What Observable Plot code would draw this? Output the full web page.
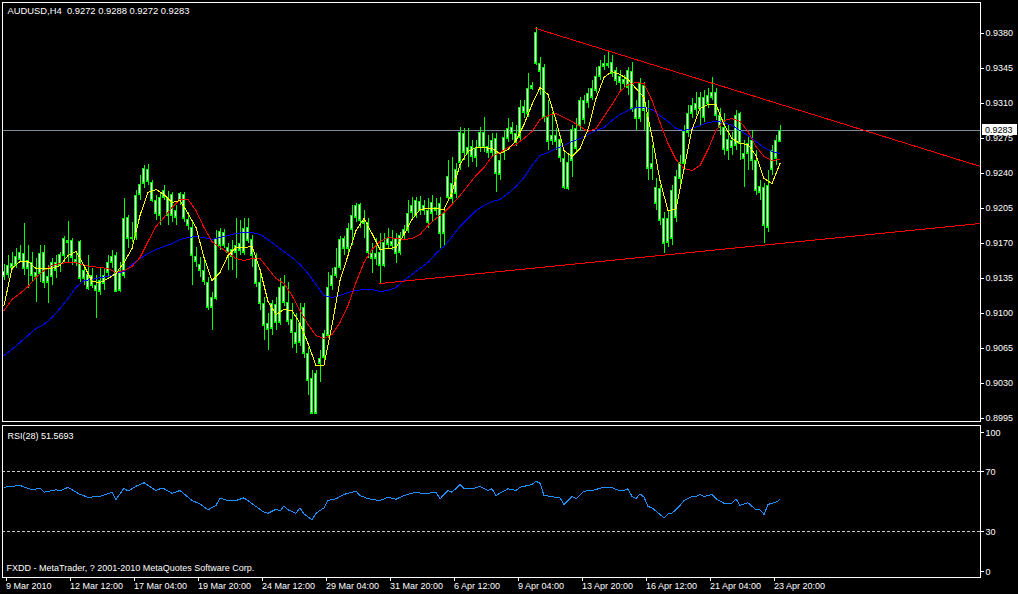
<!DOCTYPE html>
<html><head><meta charset="utf-8">
<script src="https://cdn.jsdelivr.net/npm/d3@7"></script>
<script src="https://cdn.jsdelivr.net/npm/@observablehq/plot@0.6"></script>
<style>
html,body{margin:0;padding:0;background:#000;}
#chart{width:1018px;height:594px;background:#000;overflow:hidden;}
#chart svg{display:block;}
#chart svg path,#chart svg line,#chart svg rect{shape-rendering:crispEdges;}
#chart svg text{white-space:pre;}
</style></head><body><div id="chart"></div>
<script>
// ---- data (AUDUSD H4 candles, index 0 = 9 Mar 2010) ----
const open = [
0.9137,0.9139,0.9146,0.9148,0.9154,0.9160,0.9145,0.9151,0.9137,0.9140,
0.9161,0.9131,0.9137,0.9143,0.9148,0.9158,0.9173,0.9173,0.9151,0.9172,
0.9135,0.9139,0.9128,0.9128,0.9122,0.9130,0.9141,0.9151,0.9158,0.9123,
0.9138,0.9196,0.9175,0.9176,0.9219,0.9230,0.9244,0.9231,0.9213,0.9198,
0.9216,0.9215,0.9198,0.9203,0.9213,0.9219,0.9194,0.9186,0.9157,0.9149,
0.9143,0.9131,0.9106,0.9115,0.9168,0.9181,0.9166,0.9157,0.9161,0.9170,
0.9161,0.9186,0.9174,0.9155,0.9131,0.9110,0.9084,0.9085,0.9109,0.9091,
0.9127,0.9111,0.9094,0.9070,0.9090,0.9106,0.9060,0.9035,0.9000,0.9050,
0.9056,0.9078,0.9128,0.9138,0.9146,0.9175,0.9165,0.9184,0.9196,0.9209,
0.9193,0.9191,0.9155,0.9160,0.9148,0.9148,0.9169,0.9172,0.9160,0.9161,
0.9178,0.9183,0.9201,0.9213,0.9203,0.9208,0.9203,0.9200,0.9206,0.9210,
0.9180,0.9216,0.9230,0.9220,0.9251,0.9280,0.9260,0.9267,0.9256,0.9266,
0.9281,0.9267,0.9261,0.9275,0.9239,0.9261,0.9275,0.9286,0.9271,0.9276,
0.9307,0.9300,0.9325,0.9381,0.9350,0.9346,0.9296,0.9273,0.9278,0.9274,
0.9255,0.9225,0.9253,0.9265,0.9288,0.9313,0.9311,0.9316,0.9323,0.9337,
0.9347,0.9350,0.9351,0.9343,0.9337,0.9330,0.9343,0.9342,0.9305,0.9295,
0.9328,0.9300,0.9245,0.9226,0.9225,0.9195,0.9171,0.9175,0.9196,0.9235,
0.9250,0.9281,0.9300,0.9310,0.9305,0.9316,0.9310,0.9321,0.9321,0.9298,
0.9286,0.9263,0.9273,0.9268,0.9300,0.9260,0.9260,0.9273,0.9253,0.9221,
0.9226,0.9186,0.9244,0.9255,0.9272];
const high = [
0.9149,0.9158,0.9161,0.9165,0.9168,0.9190,0.9168,0.9161,0.9155,0.9168,
0.9168,0.9148,0.9155,0.9158,0.9161,0.9177,0.9192,0.9175,0.9161,0.9173,
0.9148,0.9158,0.9145,0.9138,0.9145,0.9145,0.9158,0.9163,0.9161,0.9151,
0.9215,0.9198,0.9191,0.9223,0.9238,0.9248,0.9249,0.9233,0.9218,0.9221,
0.9228,0.9222,0.9221,0.9208,0.9221,0.9221,0.9201,0.9191,0.9166,0.9156,
0.9153,0.9136,0.9121,0.9183,0.9185,0.9184,0.9170,0.9173,0.9195,0.9193,
0.9195,0.9195,0.9178,0.9160,0.9140,0.9116,0.9100,0.9113,0.9116,0.9135,
0.9138,0.9131,0.9110,0.9100,0.9110,0.9110,0.9066,0.9043,0.9043,0.9063,
0.9083,0.9141,0.9145,0.9165,0.9177,0.9177,0.9190,0.9208,0.9210,0.9210,
0.9203,0.9195,0.9170,0.9175,0.9180,0.9180,0.9185,0.9183,0.9180,0.9181,
0.9188,0.9213,0.9216,0.9216,0.9217,0.9213,0.9215,0.9218,0.9215,0.9216,
0.9206,0.9253,0.9256,0.9250,0.9286,0.9285,0.9285,0.9273,0.9273,0.9286,
0.9296,0.9278,0.9280,0.9280,0.9260,0.9283,0.9295,0.9291,0.9288,0.9313,
0.9313,0.9340,0.9331,0.9386,0.9356,0.9349,0.9313,0.9301,0.9285,0.9278,
0.9263,0.9258,0.9288,0.9295,0.9316,0.9318,0.9325,0.9333,0.9346,0.9353,
0.9358,0.9361,0.9358,0.9346,0.9343,0.9338,0.9346,0.9351,0.9313,0.9335,
0.9331,0.9313,0.9268,0.9235,0.9228,0.9201,0.9203,0.9228,0.9243,0.9258,
0.9288,0.9308,0.9315,0.9321,0.9321,0.9323,0.9325,0.9336,0.9325,0.9305,
0.9300,0.9288,0.9281,0.9303,0.9301,0.9273,0.9278,0.9283,0.9263,0.9233,
0.9230,0.9243,0.9268,0.9278,0.9288];
const low = [
0.9133,0.9135,0.9143,0.9145,0.9151,0.9138,0.9125,0.9131,0.9111,0.9131,
0.9125,0.9110,0.9128,0.9135,0.9141,0.9151,0.9151,0.9148,0.9147,0.9131,
0.9128,0.9123,0.9125,0.9095,0.9118,0.9123,0.9135,0.9145,0.9121,0.9121,
0.9135,0.9165,0.9171,0.9173,0.9213,0.9225,0.9228,0.9211,0.9193,0.9188,
0.9213,0.9188,0.9191,0.9188,0.9208,0.9191,0.9183,0.9128,0.9146,0.9136,
0.9128,0.9103,0.9083,0.9113,0.9163,0.9165,0.9143,0.9143,0.9135,0.9158,
0.9158,0.9170,0.9146,0.9126,0.9103,0.9073,0.9063,0.9078,0.9083,0.9088,
0.9107,0.9088,0.9065,0.9060,0.9067,0.9055,0.9018,0.9000,0.8999,0.9031,
0.9051,0.9075,0.9123,0.9135,0.9143,0.9158,0.9161,0.9168,0.9191,0.9185,
0.9175,0.9155,0.9140,0.9148,0.9130,0.9146,0.9165,0.9163,0.9150,0.9158,
0.9173,0.9180,0.9195,0.9195,0.9198,0.9198,0.9185,0.9191,0.9198,0.9165,
0.9166,0.9213,0.9208,0.9215,0.9243,0.9253,0.9246,0.9251,0.9246,0.9261,
0.9261,0.9255,0.9256,0.9221,0.9233,0.9253,0.9271,0.9273,0.9267,0.9273,
0.9295,0.9296,0.9323,0.9348,0.9318,0.9291,0.9263,0.9268,0.9263,0.9251,
0.9224,0.9223,0.9236,0.9261,0.9283,0.9289,0.9305,0.9313,0.9320,0.9333,
0.9343,0.9345,0.9336,0.9328,0.9323,0.9325,0.9318,0.9301,0.9283,0.9291,
0.9283,0.9233,0.9233,0.9203,0.9188,0.9160,0.9166,0.9168,0.9191,0.9228,
0.9243,0.9276,0.9295,0.9298,0.9288,0.9291,0.9305,0.9313,0.9293,0.9278,
0.9258,0.9253,0.9258,0.9263,0.9253,0.9226,0.9243,0.9243,0.9218,0.9213,
0.9170,0.9181,0.9238,0.9248,0.9272];
const close = [
0.9142,0.9148,0.9150,0.9157,0.9161,0.9145,0.9153,0.9138,0.9141,0.9160,
0.9131,0.9137,0.9151,0.9151,0.9159,0.9175,0.9171,0.9156,0.9154,0.9135,
0.9143,0.9125,0.9138,0.9123,0.9133,0.9138,0.9151,0.9157,0.9122,0.9143,
0.9195,0.9175,0.9176,0.9218,0.9229,0.9245,0.9232,0.9213,0.9200,0.9216,
0.9223,0.9198,0.9219,0.9196,0.9220,0.9195,0.9188,0.9158,0.9152,0.9143,
0.9132,0.9106,0.9116,0.9175,0.9182,0.9168,0.9161,0.9164,0.9168,0.9163,
0.9185,0.9173,0.9158,0.9130,0.9110,0.9088,0.9090,0.9110,0.9091,0.9126,
0.9111,0.9092,0.9081,0.9081,0.9071,0.9060,0.9033,0.9000,0.9040,0.9055,
0.9080,0.9126,0.9138,0.9146,0.9174,0.9165,0.9185,0.9198,0.9208,0.9193,
0.9190,0.9161,0.9160,0.9155,0.9161,0.9171,0.9175,0.9168,0.9175,0.9178,
0.9184,0.9200,0.9208,0.9198,0.9212,0.9203,0.9191,0.9211,0.9203,0.9180,
0.9200,0.9237,0.9215,0.9244,0.9281,0.9261,0.9266,0.9257,0.9265,0.9281,
0.9266,0.9261,0.9273,0.9240,0.9253,0.9276,0.9285,0.9280,0.9280,0.9306,
0.9301,0.9325,0.9328,0.9350,0.9342,0.9296,0.9272,0.9278,0.9272,0.9256,
0.9226,0.9251,0.9284,0.9285,0.9313,0.9294,0.9320,0.9325,0.9337,0.9347,
0.9350,0.9348,0.9340,0.9333,0.9331,0.9334,0.9326,0.9305,0.9295,0.9330,
0.9303,0.9245,0.9250,0.9210,0.9193,0.9170,0.9195,0.9223,0.9237,0.9251,
0.9282,0.9300,0.9308,0.9304,0.9316,0.9296,0.9318,0.9316,0.9298,0.9286,
0.9264,0.9274,0.9266,0.9298,0.9270,0.9255,0.9270,0.9253,0.9223,0.9227,
0.9188,0.9228,0.9263,0.9273,0.9283];

// moving averages, sampled every second bar (bars 0,2,...,194)
const maBars = d3.range(0, 195, 2);
const maFast = [
0.9108,0.9145,0.9152,0.9152,0.9145,0.9145,0.9145,0.9148,0.9158,0.9162,
0.9148,0.9132,0.9131,0.9135,0.9140,0.9151,0.9165,0.9198,0.9221,0.9224,
0.9219,0.9211,0.9213,0.9200,0.9186,0.9156,0.9133,0.9141,0.9158,0.9166,
0.9166,0.9167,0.9144,0.9112,0.9099,0.9104,0.9103,0.9090,0.9070,0.9048,
0.9048,0.9088,0.9133,0.9158,0.9183,0.9195,0.9180,0.9164,0.9165,0.9166,
0.9179,0.9194,0.9204,0.9205,0.9205,0.9204,0.9221,0.9249,0.9262,0.9266,
0.9266,0.9265,0.9260,0.9264,0.9273,0.9289,0.9309,0.9326,0.9319,0.9293,
0.9263,0.9257,0.9265,0.9284,0.9315,0.9336,0.9342,0.9339,0.9334,0.9325,
0.9316,0.9277,0.9233,0.9203,0.9204,0.9244,0.9284,0.9305,0.9309,0.9309,
0.9289,0.9275,0.9270,0.9269,0.9258,0.9235,0.9230,0.9250];
const maMid = [
0.9103,0.9114,0.9120,0.9127,0.9136,0.9143,0.9148,0.9150,0.9151,0.9151,
0.9148,0.9147,0.9146,0.9145,0.9141,0.9143,0.9147,0.9156,0.9172,0.9187,
0.9196,0.9206,0.9214,0.9214,0.9203,0.9186,0.9172,0.9166,0.9161,0.9155,
0.9153,0.9155,0.9155,0.9145,0.9135,0.9130,0.9118,0.9103,0.9089,0.9078,
0.9075,0.9079,0.9091,0.9108,0.9131,0.9151,0.9164,0.9172,0.9176,0.9175,
0.9174,0.9175,0.9179,0.9188,0.9195,0.9201,0.9209,0.9218,0.9228,0.9238,
0.9246,0.9257,0.9261,0.9266,0.9269,0.9275,0.9282,0.9294,0.9298,0.9300,
0.9296,0.9292,0.9287,0.9282,0.9285,0.9297,0.9309,0.9322,0.9329,0.9331,
0.9330,0.9313,0.9291,0.9270,0.9254,0.9245,0.9243,0.9248,0.9264,0.9283,
0.9293,0.9295,0.9292,0.9282,0.9267,0.9257,0.9253,0.9254];
const maSlow = [
0.9058,0.9064,0.9071,0.9078,0.9085,0.9089,0.9096,0.9105,0.9115,0.9126,
0.9133,0.9134,0.9136,0.9137,0.9140,0.9142,0.9149,0.9155,0.9160,0.9164,
0.9167,0.9170,0.9174,0.9176,0.9177,0.9176,0.9174,0.9176,0.9178,0.9180,
0.9181,0.9181,0.9179,0.9174,0.9168,0.9162,0.9156,0.9149,0.9140,0.9129,
0.9118,0.9116,0.9118,0.9121,0.9123,0.9124,0.9124,0.9122,0.9123,0.9126,
0.9133,0.9139,0.9145,0.9151,0.9160,0.9167,0.9177,0.9187,0.9195,0.9203,
0.9208,0.9212,0.9214,0.9220,0.9227,0.9236,0.9248,0.9258,0.9261,0.9265,
0.9268,0.9272,0.9275,0.9279,0.9283,0.9286,0.9293,0.9299,0.9303,0.9306,
0.9306,0.9304,0.9298,0.9292,0.9285,0.9283,0.9285,0.9288,0.9291,0.9292,
0.9291,0.9288,0.9283,0.9278,0.9272,0.9266,0.9262,0.9260];

// RSI(28)
const rsiBars = [0,4,7,9,10,13,14,16,19,21,24,27,28,30,31,33,35,38,39,40,42,44,47,49,51,53,54,56,58,60,63,65,66,68,69,70,71,73,74,75,77,78,80,81,83,85,88,89,91,94,96,98,100,103,105,108,109,111,112,114,115,117,119,121,122,123,126,128,129,132,133,134,135,138,139,140,142,143,145,147,150,152,153,155,156,157,158,159,160,161,162,165,166,167,169,170,172,173,174,175,177,178,180,182,183,184,186,188,189,190,191,193,194];
const rsiValues = [59.8,61,58.1,59.2,56.5,58.1,57.2,59.8,55,53.1,53.6,56.5,51.6,59.2,57.2,60.5,62.8,57.6,58.8,58.8,55.8,57.6,50.9,48.7,44.7,47.6,52.5,50.9,50.9,52.7,46.9,43.1,42.4,45.1,43.8,47.4,44.7,42.4,46,42,38,42.4,46,50.9,52.1,55,57.2,54.3,52.1,50.9,53.1,51.8,54.3,56.5,55.4,56.5,52.1,57.6,56.5,61.6,58.8,58.8,60.3,57.6,58.8,54.3,58.8,57.6,59.8,61.6,63.8,62.5,54.3,53.1,52.7,48.3,53.6,52.1,57.2,57.6,59.8,59.8,58.1,57.6,58.8,53.6,52.1,55.4,53.1,46.9,46,39.4,42,42.4,47.6,50.9,53.6,53.6,55,53.6,55,52.1,49.1,49.1,52.1,47.6,49.4,44.7,44.7,41.6,48.3,49.8,51.5693];
const rsiLevels = [70, 30];

// trend lines (bar index, price)
const trendUpperBars = [133, 244.125];
const trendUpperPrices = [0.9385, 0.9247];
const trendLowerBars = [94, 244.125];
const trendLowerPrices = [0.9130, 0.9190];

// axes
const priceTicks = [0.9380,0.9345,0.9310,0.9275,0.9240,0.9205,0.9170,0.9135,0.9100,0.9065,0.9030,0.8995];
const timeTickBars = [0,16,32,48,64,80,96,112,128,144,160,176,192];
const timeTickLabels = ["9 Mar 2010","12 Mar 12:00","17 Mar 04:00","19 Mar 20:00","24 Mar 12:00","29 Mar 04:00","31 Mar 20:00","6 Apr 12:00","9 Apr 04:00","13 Apr 20:00","16 Apr 12:00","21 Apr 04:00","23 Apr 20:00"];

// ---- build ----
const bars = open.map((o, i) => {
  const c = close[i];
  return {i, open: o, high: high[i], low: low[i], close: c, top: Math.max(o, c), bot: Math.min(o, c)};
});
const last = bars[bars.length - 1];
const header = `AUDUSD,H4  ${last.open.toFixed(4)} ${last.high.toFixed(4)} ${last.low.toFixed(4)} ${last.close.toFixed(4)}`;
const rsiLabel = `RSI(28) ${rsiValues[rsiValues.length - 1].toFixed(4)}`;
const copyright = "FXDD - MetaTrader, ? 2001-2010 MetaQuotes Software Corp.";

const LIME = "#00ff00";
const xDomain = [-0.375, 244.125];
const baseStyle = {background: "#000", color: "#fff", fontFamily: "'Liberation Sans', Arial, sans-serif", fontSize: "9px", overflow: "visible"};

const main = Plot.plot({
  width: 1018, height: 424,
  marginLeft: 2, marginRight: 38, marginTop: 2, marginBottom: 3,
  x: {domain: xDomain, axis: null},
  y: {domain: [0.8992, 0.9411], axis: null},
  style: baseStyle,
  marks: [
    Plot.ruleY([last.close], {stroke: "#7d8b9a"}),
    Plot.ruleX(bars, {x: "i", y1: "low", y2: "high", stroke: LIME, strokeWidth: 1}),
    Plot.rect(bars, {x1: d => d.i - 0.375, x2: d => d.i + 0.375, y1: d => d.bot - 0.00005, y2: d => d.top + 0.00005, fill: LIME}),
    Plot.rect(bars.filter(d => d.top - d.bot >= 0.0002), {x1: d => d.i - 0.125, x2: d => d.i + 0.125, y1: d => d.bot + 0.00006, y2: d => d.top - 0.00006, fill: "#ffffff"}),
    Plot.line(maSlow, {x: maBars, y: d => d, stroke: "#0000ff", strokeWidth: 1}),
    Plot.line(maMid, {x: maBars, y: d => d, stroke: "#ff0000", strokeWidth: 1}),
    Plot.line(maFast, {x: maBars, y: d => d, stroke: "#ffff00", strokeWidth: 1}),
    Plot.line(trendUpperPrices, {x: trendUpperBars, y: d => d, stroke: "#ff0000", strokeWidth: 1}),
    Plot.line(trendLowerPrices, {x: trendLowerBars, y: d => d, stroke: "#ff0000", strokeWidth: 1}),
    Plot.frame({stroke: "#fff"}),
    Plot.axisY(priceTicks, {anchor: "right", tickSize: 3, tickPadding: 2, tickFormat: d => d.toFixed(4), label: null, fill: "#fff", stroke: "#fff"}),
    Plot.text([header], {text: d => d, frameAnchor: "top-left", dx: 5, dy: 8.5, lineAnchor: "middle", fill: "#fff", fontSize: 9.4})
  ]
});

const rsiPlot = Plot.plot({
  width: 1018, height: 170,
  marginLeft: 2, marginRight: 38, marginTop: 1, marginBottom: 17,
  x: {domain: xDomain, axis: null},
  y: {domain: [-0.57, 101.1], axis: null},
  style: baseStyle,
  marks: [
    Plot.ruleY(rsiLevels, {stroke: "#c8c8c8", strokeDasharray: "3,2"}),
    Plot.line(rsiValues, {x: rsiBars, y: d => d, stroke: "#1e90ff", strokeWidth: 1}),
    Plot.frame({stroke: "#fff"}),
    Plot.axisY([70, 30], {anchor: "right", tickSize: 3, tickPadding: 2, label: null, fill: "#fff", stroke: "#fff"}),
    Plot.axisY([100], {anchor: "right", tickSize: 3, tickPadding: 2, label: null, dy: 5.5, fill: "#fff", stroke: "#fff"}),
    Plot.axisY([0], {anchor: "right", tickSize: 3, tickPadding: 2, label: null, dy: -5, fill: "#fff", stroke: "#fff"}),
    Plot.axisX(timeTickBars, {anchor: "bottom", tickSize: 4, tickPadding: 1, label: null, textAnchor: "start", dx: 2,
      tickFormat: d => timeTickLabels[timeTickBars.indexOf(d)], fill: "#fff", stroke: "#fff"}),
    Plot.text([rsiLabel], {text: d => d, frameAnchor: "top-left", dx: 5, dy: 10.5, lineAnchor: "middle", fill: "#fff"}),
    Plot.text([copyright], {text: d => d, frameAnchor: "bottom-left", dx: 4, dy: -9, lineAnchor: "middle", fill: "#fff"})
  ]
});

const holder = document.getElementById("chart");
holder.appendChild(main);
holder.appendChild(rsiPlot);

// current price marker on the price scale
const py = main.scale("y").apply(last.close);
const svg = d3.select(main);
svg.append("rect").attr("x", 982).attr("y", Math.round(py) - 6).attr("width", 35).attr("height", 11).attr("fill", "#fff");
svg.append("text").attr("x", 985).attr("y", py).attr("dy", "0.35em").attr("text-anchor", "start").attr("fill", "#000").text(last.close.toFixed(4));
</script></body></html>
